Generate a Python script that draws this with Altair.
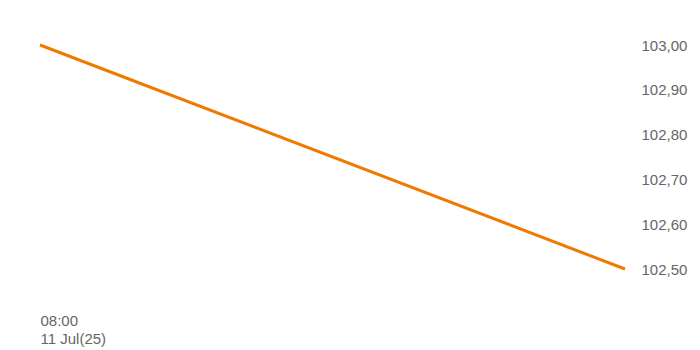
import altair as alt
import pandas as pd

times = ["2025-07-11T08:00:00", "2025-07-11T17:30:00"]
prices = [103.00, 102.50]
y_ticks = [102.5, 102.6, 102.7, 102.8, 102.9, 103.0]

df = pd.DataFrame({"t": times, "price": prices})

chart = alt.Chart(df).mark_line(color="#EE7A00", strokeWidth=3).encode(
    x=alt.X("t:T", scale=alt.Scale(nice=False),
            axis=alt.Axis(values=[times[0]], title=None, domain=False, ticks=False, grid=False,
                          labelAlign="left", labelPadding=44, labelFontSize=15,
                          labelColor="#666666", labelFont="Liberation Sans", labelLineHeight=18,
                          labelExpr="[timeFormat(datum.value, '%H:%M'), timeFormat(datum.value, '%d %b(%y)')]")),
    y=alt.Y("price:Q", scale=alt.Scale(domain=[102.5, 103.0], nice=False, zero=False),
            axis=alt.Axis(orient="right", values=y_ticks, title=None, domain=False, ticks=False, grid=False,
                          labelAlign="left", labelPadding=16, labelFontSize=15, labelColor="#666666",
                          labelFont="Liberation Sans",
                          labelExpr="replace(format(datum.value, '.2f'), '.', ',')"))
).properties(
    width=585, height=224,
    autosize=alt.AutoSizeParams(type="none"),
    padding={"left": 32, "top": 37, "right": 67, "bottom": 90}
).configure_view(stroke=None)

chart.save("out.html", embed_options={"renderer": "svg", "actions": False})
